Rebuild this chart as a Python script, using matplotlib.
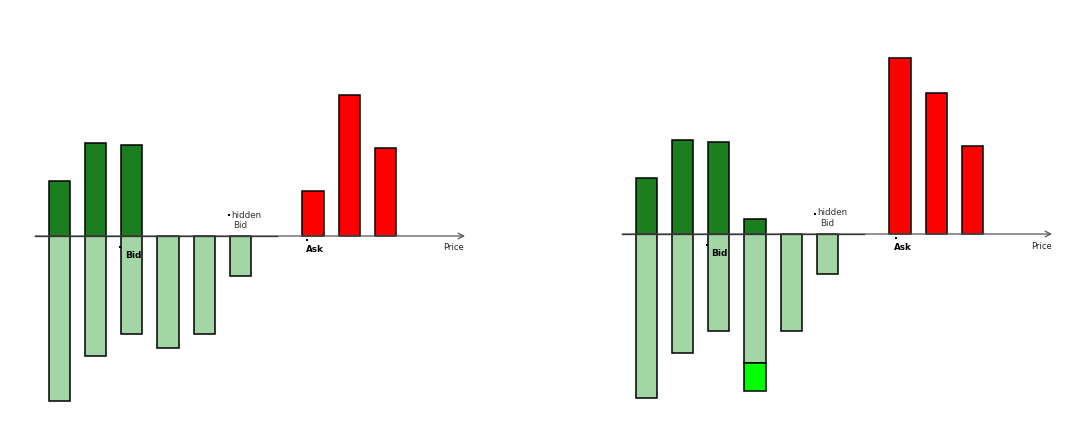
import matplotlib
matplotlib.use("Agg")
import matplotlib.pyplot as plt

# ---- data -------------------------------------------------------------
bid_levels = [0, 1, 2, 3, 4, 5]
ask_levels = [7, 8, 9]

# left snapshot
left_buy = [55, 93, 91, 0, 0, 0]          # executed at bid (dark green)
left_bid = [165, 120, 98, 112, 98, 40]    # resting bid volume (light green)
left_ask = [45, 141, 88]                  # ask volume (red)

# right snapshot
right_buy = [56, 94, 92, 15, 0, 0]
right_bid = [164, 119, 97, 129, 97, 40]
right_hidden = [0, 0, 0, 28, 0, 0]        # hidden bid (bright green)
right_ask = [176, 141, 88]

DARK = "#1b7f1f"
LIGHT = "#a3d6a5"
RED = "#ff0000"
BRIGHT = "#00ff00"
W = 0.59

fig = plt.figure(figsize=(10.8, 4.3), dpi=100)
PX = 36.27  # pixels per price level


def panel(x0_px, zero_px, buy, bid, ask, hidden, labels):
    left = (x0_px - 1.5 * PX) / 1080
    ax = fig.add_axes([left, 0, 13 * PX / 1080, 1])
    ax.set_xlim(-1.5, 11.5)
    ax.set_ylim(-(430 - zero_px), zero_px)
    ax.axis("off")
    # axis line with arrow
    ax.annotate("", xy=(11.19, 0), xytext=(-0.66, 0),
                arrowprops=dict(arrowstyle="->", color="#555555", lw=0.9,
                                shrinkA=0, shrinkB=0))
    ax.plot([-0.66, 6.0], [0, 0], color="black", lw=0.9)
    kw = dict(width=W, edgecolor="black", linewidth=1.1)
    ax.bar(bid_levels, [-v for v in bid], color=LIGHT, **kw)
    hb = [(lv, -b, -h) for lv, b, h in zip(bid_levels, bid, hidden) if h > 0]
    if hb:
        ax.bar([h[0] for h in hb], [h[2] for h in hb], bottom=[h[1] for h in hb],
               color=BRIGHT, **kw)
    bl = [(lv, v) for lv, v in zip(bid_levels, buy) if v > 0]
    ax.bar([b[0] for b in bl], [b[1] for b in bl], color=DARK, **kw)
    ax.bar(ask_levels, ask, color=RED, **kw)

    (bid_dot, bid_txt, hid_dot, hid_txt1, hid_txt2, ask_dot, ask_txt, price_txt) = labels
    for d in (bid_dot, hid_dot, ask_dot):
        ax.plot([d[0]], [d[1]], marker="s", ms=1.6, color="black", mew=0)
    ax.text(*bid_txt, "Bid", fontsize=6.5, fontweight="bold", va="center", ha="left")
    ax.text(*ask_txt, "Ask", fontsize=6.3, fontweight="bold", va="center", ha="left")
    ax.text(*hid_txt1, "hidden", fontsize=6.3, color="#333333", va="center", ha="left")
    ax.text(*hid_txt2, "Bid", fontsize=6.3, color="#333333", va="center", ha="left")
    ax.text(*price_txt, "Price", fontsize=6.0, color="#222222", va="center", ha="left")
    return ax


def px(p, x0):
    return (p - x0) / PX


x0L = 59.2
panel(x0L, 236, left_buy, left_bid, left_ask, [0] * 6,
      [(px(120, x0L), -11), (px(125, x0L), -20),
       (px(229, x0L), 21), (px(231, x0L), 21), (px(233, x0L), 10),
       (px(307, x0L), -4), (px(306, x0L), -13), (px(443, x0L), -12)])

x0R = 646.2
panel(x0R, 234, right_buy, right_bid, right_ask, right_hidden,
      [(px(706.5, x0R), -11), (px(711, x0R), -19),
       (px(815, x0R), 20), (px(817, x0R), 22), (px(820, x0R), 11),
       (px(896, x0R), -4), (px(894, x0R), -13), (px(1031, x0R), -12)])

fig.savefig("out.png", dpi=100)
